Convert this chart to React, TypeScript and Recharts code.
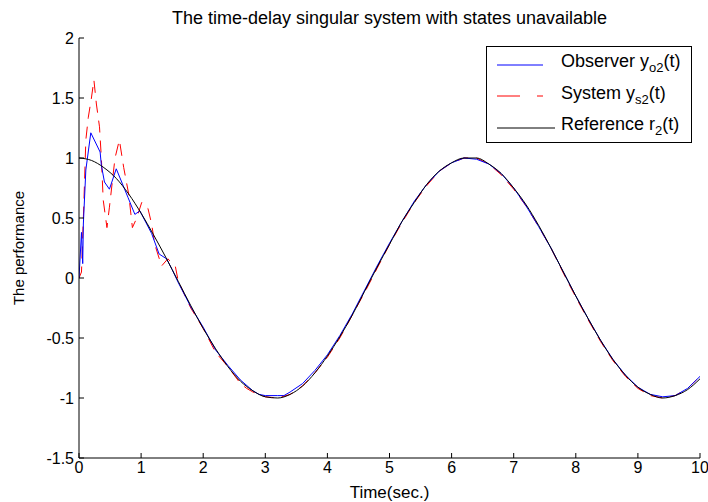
import { LineChart, Line, XAxis, YAxis } from 'recharts'

// reference r2(t), read on a 0.2 s grid
const refTime = [
  0, 0.2, 0.4, 0.6, 0.8, 1, 1.2, 1.4, 1.6, 1.8, 2, 2.2, 2.4, 2.6, 2.8, 3, 3.2, 3.4, 3.6, 3.8, 4, 4.2, 4.4, 4.6, 4.8, 5,
  5.2, 5.4, 5.6, 5.8, 6, 6.2, 6.4, 6.6, 6.8, 7, 7.2, 7.4, 7.6, 7.8, 8, 8.2, 8.4, 8.6, 8.8, 9, 9.2, 9.4, 9.6, 9.8, 10,
]
const refValues = [
  1.0, 0.98, 0.92, 0.83, 0.7, 0.54, 0.36, 0.17, -0.03, -0.23, -0.42, -0.59, -0.74, -0.86, -0.94, -0.99, -1.0, -0.97,
  -0.9, -0.79, -0.65, -0.49, -0.31, -0.11, 0.09, 0.28, 0.47, 0.63, 0.78, 0.89, 0.96, 1.0, 1.0, 0.95, 0.87, 0.75, 0.61,
  0.44, 0.25, 0.05, -0.15, -0.34, -0.52, -0.68, -0.81, -0.91, -0.97, -1.0, -0.98, -0.93, -0.84,
]

// observer y_o2(t)
const obsTime = [
  0, 0.04, 0.06, 0.07, 0.11, 0.19, 0.34, 0.36, 0.41, 0.49, 0.6, 0.79, 0.9, 0.98, 1.17, 1.29, 1.41, 1.5, 1.6, 1.8, 2,
  2.2, 2.4, 2.6, 2.8, 2.9, 3, 3.2, 3.3, 3.4, 3.6, 3.8, 4, 4.2, 4.4, 4.6, 4.8, 5, 5.2, 5.4, 5.6, 5.8, 6, 6.2, 6.4, 6.6,
  6.8, 7, 7.2, 7.4, 7.6, 7.8, 8, 8.2, 8.4, 8.6, 8.8, 9, 9.2, 9.4, 9.6, 9.8, 10,
]
const obsValues = [
  0, 0.38, 0.12, 0.45, 0.9, 1.21, 1.05, 0.94, 0.8, 0.74, 0.91, 0.67, 0.53, 0.56, 0.37, 0.2, 0.16, 0.07, -0.04, -0.24,
  -0.41, -0.6, -0.73, -0.85, -0.94, -0.97, -0.98, -0.98, -0.98, -0.95, -0.88, -0.77, -0.64, -0.48, -0.3, -0.1, 0.1,
  0.29, 0.47, 0.64, 0.78, 0.89, 0.96, 1.0, 0.99, 0.95, 0.87, 0.75, 0.6, 0.43, 0.25, 0.05, -0.15, -0.34, -0.52, -0.68,
  -0.81, -0.91, -0.97, -0.99, -0.98, -0.92, -0.82,
]

// system y_s2(t)
const sysTime = [
  0, 0.04, 0.06, 0.08, 0.11, 0.15, 0.2, 0.24, 0.28, 0.33, 0.36, 0.39, 0.45, 0.49, 0.58, 0.65, 0.72, 0.8, 0.86, 0.93,
  1.01, 1.11, 1.17, 1.22, 1.33, 1.43, 1.55, 1.6, 1.8, 2, 2.2, 2.4, 2.6, 2.7, 2.8, 3, 3.2, 3.4, 3.6, 3.8, 4, 4.2, 4.4,
  4.6, 4.8, 5, 5.2, 5.4, 5.6, 5.8, 6, 6.2, 6.4, 6.6, 6.8, 7, 7.2, 7.4, 7.6, 7.8, 8, 8.2, 8.4, 8.6, 8.8, 9, 9.2, 9.4,
  9.6, 9.8, 10,
]
const sysValues = [
  0, 0.05, 0.35, 0.65, 1.15, 1.34, 1.5, 1.65, 1.45, 1.26, 1.0, 0.65, 0.42, 0.59, 1.0, 1.15, 0.92, 0.7, 0.42, 0.5, 0.63,
  0.58, 0.45, 0.28, 0.1, 0.16, 0.1, -0.03, -0.25, -0.42, -0.62, -0.74, -0.88, -0.92, -0.95, -0.99, -1.0, -0.97, -0.9,
  -0.79, -0.66, -0.5, -0.31, -0.12, 0.08, 0.28, 0.46, 0.63, 0.77, 0.89, 0.96, 1.0, 1.0, 0.95, 0.86, 0.74, 0.6, 0.43,
  0.25, 0.04, -0.16, -0.35, -0.53, -0.69, -0.82, -0.92, -0.98, -1.0, -0.98, -0.92, -0.82,
]

const xTicks = [0, 1, 2, 3, 4, 5, 6, 7, 8, 9, 10]
const yTicks = [-1.5, -1, -0.5, 0, 0.5, 1, 1.5, 2]

const refData = refTime.map((t, i) => ({ t, v: refValues[i] }))
const obsData = obsTime.map((t, i) => ({ t, v: obsValues[i] }))
const sysData = sysTime.map((t, i) => ({ t, v: sysValues[i] }))

const font = '"Liberation Sans", Arial, sans-serif'
const tickStyle = { fontSize: 16, fill: '#000', fontFamily: font }

function LegendBox() {
  const row = { display: 'flex', alignItems: 'center', height: 31.5 }
  const label = { fontSize: 18, marginLeft: 4, whiteSpace: 'nowrap' as const, lineHeight: '18px' }
  const sub = { fontSize: 13, verticalAlign: '-5px' }
  return (
    <div
      style={{
        position: 'absolute',
        left: 486,
        top: 46,
        width: 206,
        height: 97,
        border: '1px solid #000',
        background: '#fff',
        fontFamily: font,
        padding: '2px 0 0 10px',
        boxSizing: 'border-box',
      }}
    >
      <div style={row}>
        <svg width={60} height={4}><line x1={0} x2={46} y1={2} y2={2} stroke="#0000ff" /></svg>
        <span style={label}>Observer y<span style={sub}>o2</span>(t)</span>
      </div>
      <div style={row}>
        <svg width={60} height={4}><line x1={0} x2={46} y1={2} y2={2} stroke="#ff0000" strokeDasharray="23 17" /></svg>
        <span style={label}>System y<span style={sub}>s2</span>(t)</span>
      </div>
      <div style={row}>
        <svg width={60} height={4}><line x1={0} x2={58} y1={2} y2={2} stroke="#000" /></svg>
        <span style={label}>Reference r<span style={sub}>2</span>(t)</span>
      </div>
    </div>
  )
}

export default function App() {
  return (
    <div style={{ position: 'absolute', left: 0, top: 0, width: 708, height: 502, background: '#fff' }}>
      <div
        style={{
          position: 'absolute',
          top: 7,
          left: 79,
          width: 621,
          textAlign: 'center',
          fontFamily: font,
          fontSize: 18,
          lineHeight: '22px',
        }}
      >
        The time-delay singular system with states unavailable
      </div>
      <LineChart width={708} height={502} margin={{ top: 38, right: 8, bottom: 0, left: 0 }}>
        <XAxis
          xAxisId="b"
          dataKey="t"
          type="number"
          domain={[0, 10]}
          ticks={xTicks}
          allowDataOverflow
          height={44}
          stroke="#000"
          tickSize={-5}
          tickMargin={9}
          tick={tickStyle}
          label={{ value: 'Time(sec.)', position: 'insideBottom', offset: 4, style: { ...tickStyle, fontSize: 17 } }}
        />
        <XAxis xAxisId="t" orientation="top" dataKey="t" type="number" domain={[0, 10]} ticks={xTicks} height={0} stroke="#000" tickSize={-5} tick={false} />
        <YAxis
          yAxisId="l"
          type="number"
          domain={[-1.5, 2]}
          ticks={yTicks}
          allowDataOverflow
          width={79}
          stroke="#000"
          tickSize={-5}
          tickMargin={10}
          tick={tickStyle}
          label={{ value: 'The performance', angle: -90, position: 'insideLeft', offset: 19, style: { ...tickStyle, fontSize: 15, textAnchor: 'middle' } }}
        />
        <YAxis yAxisId="r" orientation="right" type="number" domain={[-1.5, 2]} ticks={yTicks} width={0} stroke="#000" tickSize={-5} tick={false} />
        <Line xAxisId="b" yAxisId="l" data={sysData} dataKey="v" type="linear" stroke="#ff0000" strokeDasharray="12 8" dot={false} isAnimationActive={false} />
        <Line xAxisId="b" yAxisId="l" data={obsData} dataKey="v" type="linear" stroke="#0000ff" dot={false} isAnimationActive={false} />
        <Line xAxisId="b" yAxisId="l" data={refData} dataKey="v" type="monotone" stroke="#000" dot={false} isAnimationActive={false} />
      </LineChart>
      <LegendBox />
    </div>
  )
}
